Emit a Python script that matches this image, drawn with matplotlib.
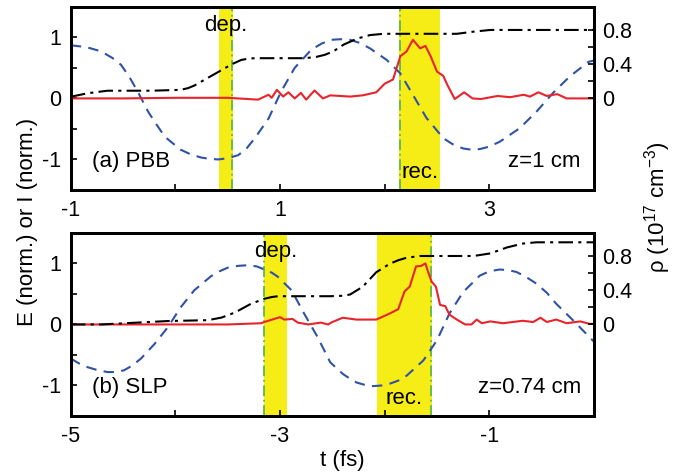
import matplotlib
matplotlib.use("Agg")
import matplotlib.pyplot as plt
from matplotlib.ticker import FixedLocator, FixedFormatter

plt.rcParams['font.family'] = ['Liberation Sans', 'DejaVu Sans']
plt.rcParams['mathtext.fontset'] = 'custom'
plt.rcParams['mathtext.rm'] = 'Liberation Sans'

# ---------------- panel (a) PBB ----------------
a_E_t = [-1.0, -0.85, -0.71, -0.60, -0.52, -0.44, -0.36, -0.26, -0.18, -0.10, 0.05, 0.15, 0.25, 0.33, 0.41,
         0.50, 0.60, 0.68, 0.76, 0.89, 1.01, 1.14, 1.30, 1.40, 1.49, 1.58, 1.67, 1.76, 1.86, 2.02, 2.15,
         2.27, 2.40, 2.56, 2.65, 2.75, 2.83, 2.91, 3.00, 3.10, 3.29, 3.45, 3.61, 3.77, 3.95, 4.0]
a_E = [0.87, 0.84, 0.77, 0.66, 0.55, 0.35, 0.11, -0.22, -0.43, -0.63, -0.84, -0.92, -0.97, -0.99, -1.0,
       -0.98, -0.93, -0.82, -0.65, -0.33, 0.11, 0.50, 0.80, 0.90, 0.96, 0.97, 0.96, 0.91, 0.82, 0.63, 0.41,
       0.06, -0.32, -0.65, -0.75, -0.82, -0.84, -0.83, -0.79, -0.71, -0.49, -0.22, 0.09, 0.36, 0.60, 0.62]

a_rho_t = [-1.0, -0.84, -0.65, -0.23, 0.05, 0.12, 0.18, 0.31, 0.44, 0.54, 0.63, 0.70, 0.76, 1.21, 1.33,
           1.43, 1.51, 1.61, 1.74, 1.86, 1.99, 2.69, 2.85, 3.01, 4.0]
a_rho = [0.02, 0.06, 0.09, 0.09, 0.10, 0.12, 0.15, 0.24, 0.33, 0.40, 0.45, 0.465, 0.47, 0.47, 0.48,
         0.51, 0.55, 0.63, 0.70, 0.74, 0.755, 0.755, 0.78, 0.80, 0.80]

a_I_t = [-1.0, -0.5, 0.0, 0.5, 0.79, 0.89, 0.92, 0.97, 1.03, 1.08, 1.14, 1.20, 1.25, 1.33, 1.41, 1.48,
         1.67, 1.79, 1.92, 2.00, 2.08, 2.11, 2.15, 2.21, 2.27, 2.34, 2.39, 2.44, 2.50, 2.56, 2.60, 2.67,
         2.72, 2.76, 2.84, 2.92, 3.08, 3.20, 3.33, 3.39, 3.47, 3.55, 3.65, 3.74, 4.0]
a_I = [0.0, 0.0, 0.01, 0.01, -0.02, 0.06, 0.01, 0.14, 0.03, 0.10, 0.0, 0.09, -0.02, 0.13, 0.0, 0.05,
       0.03, 0.05, 0.10, 0.24, 0.31, 0.47, 0.69, 0.77, 0.96, 0.82, 0.86, 0.69, 0.44, 0.37, 0.22, -0.01,
       0.05, 0.10, 0.0, -0.01, 0.04, 0.02, 0.06, 0.03, 0.10, 0.04, 0.07, 0.0, 0.0]

a_dep = (0.415, 0.555)
a_dep_line = 0.54
a_rec = (2.14, 2.53)
a_rec_line = 2.145

# ---------------- panel (b) SLP ----------------
b_E_t = [-5.0, -4.92, -4.84, -4.74, -4.65, -4.57, -4.49, -4.41, -4.33, -4.20, -4.07, -3.95, -3.82, -3.66,
         -3.58, -3.50, -3.40, -3.31, -3.22, -3.15, -3.08, -3.02, -2.89, -2.77, -2.64, -2.52, -2.40, -2.33,
         -2.27, -2.19, -2.11, -2.03, -1.95, -1.87, -1.79, -1.63, -1.50, -1.38, -1.25, -1.09, -1.00, -0.90,
         -0.82, -0.74, -0.65, -0.55, -0.45, -0.36, -0.20, -0.04, 0.0]
b_E = [-0.56, -0.64, -0.70, -0.75, -0.78, -0.78, -0.75, -0.67, -0.56, -0.32, -0.04, 0.28, 0.56, 0.79,
       0.87, 0.93, 0.96, 0.97, 0.95, 0.90, 0.85, 0.78, 0.56, 0.18, -0.21, -0.62, -0.81, -0.89,
       -0.95, -0.99, -1.01, -1.0, -0.97, -0.92, -0.84, -0.59, -0.26, 0.18, 0.53, 0.80, 0.87, 0.90,
       0.89, 0.86, 0.78, 0.67, 0.52, 0.34, 0.07, -0.21, -0.28]

b_rho_t = [-5.0, -4.71, -4.39, -4.07, -3.69, -3.56, -3.43, -3.28, -3.15, -3.08, -3.02, -2.86, -2.52, -2.40,
           -2.33, -2.21, -2.08, -1.95, -1.87, -1.79, -1.66, -1.15, -0.99, -0.83, -0.68, -0.55, 0.0]
b_rho = [0.0, 0.0, 0.02, 0.04, 0.05, 0.08, 0.14, 0.24, 0.30, 0.32, 0.33, 0.33, 0.33, 0.335,
         0.35, 0.44, 0.61, 0.71, 0.75, 0.78, 0.80, 0.80, 0.83, 0.90, 0.945, 0.96, 0.96]

b_I_t = [-5.0, -4.0, -3.5, -3.18, -3.15, -3.0, -2.96, -2.88, -2.83, -2.73, -2.61, -2.54, -2.50, -2.40,
         -2.27, -2.08, -1.95, -1.87, -1.81, -1.76, -1.70, -1.65, -1.61, -1.58, -1.55, -1.51, -1.47,
         -1.42, -1.38, -1.31, -1.23, -1.17, -1.12, -1.07, -0.99, -0.87, -0.68, -0.58, -0.51, -0.45,
         -0.36, -0.26, -0.13, -0.04, 0.0]
b_I = [0.0, 0.0, 0.0, 0.02, 0.04, 0.12, 0.08, 0.09, 0.03, 0.0, 0.03, 0.0, 0.04, 0.11,
       0.08, 0.08, 0.18, 0.25, 0.54, 0.62, 0.95, 0.96, 1.0, 0.84, 0.70, 0.62, 0.32,
       0.30, 0.16, 0.08, 0.0, 0.0, 0.08, 0.02, 0.05, 0.02, 0.06, 0.04, 0.11, 0.04,
       0.08, 0.02, 0.05, 0.01, 0.01]

b_dep = (-3.15, -2.93)
b_dep_line = -3.15
b_rec = (-2.07, -1.55)
b_rec_line = -1.56

panels = [
    dict(E_t=a_E_t, E=a_E, rho_t=a_rho_t, rho=a_rho, I_t=a_I_t, I=a_I, dep=a_dep, dep_line=a_dep_line,
         rec=a_rec, rec_line=a_rec_line, xlim=(-1, 4), xticks=[-1, 0, 1, 2, 3, 4],
         xlabels=['-1', '', '1', '', '3', ''], label='(a) PBB', z='z=1 cm'),
    dict(E_t=b_E_t, E=b_E, rho_t=b_rho_t, rho=b_rho, I_t=b_I_t, I=b_I, dep=b_dep, dep_line=b_dep_line,
         rec=b_rec, rec_line=b_rec_line, xlim=(-5, 0), xticks=[-5, -4, -3, -2, -1, 0],
         xlabels=['-5', '', '-3', '', '-1', ''], label='(b) SLP', z='z=0.74 cm'),
]

RED = '#e8232b'
BLUE = '#2f52a8'
YELLOW = '#f6ec16'
GREEN = '#5db94a'
FS = 15.5
TFS = 16

fig = plt.figure(figsize=(6.81, 4.72), dpi=100)
rects = [[0.104, 0.5975, 0.768, 0.388], [0.104, 0.1186, 0.768, 0.388]]

for p, r in zip(panels, rects):
    ax = fig.add_axes(r)
    ax.axvspan(*p['dep'], color=YELLOW, lw=0, zorder=0)
    ax.axvspan(*p['rec'], color=YELLOW, lw=0, zorder=0)
    for xl in (p['dep_line'], p['rec_line']):
        ax.axvline(xl, color=GREEN, lw=1.3, dashes=(6, 2, 1, 2), zorder=1)
    ax.plot(p['E_t'], p['E'], color=BLUE, lw=1.5, dashes=(5, 3.5), zorder=2)
    ax.plot(p['I_t'], p['I'], color=RED, lw=1.5, zorder=3)
    ax.set_xlim(*p['xlim'])
    ax.set_ylim(-1.5, 1.5)
    ax.xaxis.set_major_locator(FixedLocator(p['xticks']))
    ax.xaxis.set_major_formatter(FixedFormatter(p['xlabels']))
    ax.set_yticks([-1, 0, 1])
    ax.set_yticklabels(['-1', '0', '1'])
    ax.yaxis.set_minor_locator(FixedLocator([-0.5, 0.5]))
    ax.tick_params(axis='both', which='both', direction='in', labelsize=FS, width=1.2)
    ax.tick_params(axis='both', which='major', length=4)
    ax.tick_params(axis='y', which='minor', length=4)
    ax.tick_params(axis='x', pad=7)
    ax.tick_params(axis='y', pad=7)
    for s in ax.spines.values():
        s.set_linewidth(2.0)

    ax2 = ax.twinx()
    ax2.plot(p['rho_t'], p['rho'], color='black', lw=1.5, dashes=(7, 2.5, 1.5, 2.5), zorder=4)
    ax2.set_ylim(-1.07, 1.07)
    ax2.set_xlim(*p['xlim'])
    ax2.set_yticks([0, 0.4, 0.8])
    ax2.set_yticklabels(['0', '0.4', '0.8'])
    ax2.yaxis.set_minor_locator(FixedLocator([0.2, 0.6]))
    ax2.tick_params(axis='y', which='both', direction='in', labelsize=FS, length=4, width=1.2, pad=6)
    for s in ax2.spines.values():
        s.set_linewidth(2.0)

    ax.text(0.04, 0.155, p['label'], transform=ax.transAxes, fontsize=TFS, va='center', ha='left')
    ax.text(0.975, 0.155, p['z'], transform=ax.transAxes, fontsize=TFS, va='center', ha='right')
    ax.text(sum(p['dep']) / 2, 1.2, 'dep.', fontsize=TFS, ha='center', va='center', zorder=5)
    ax.text(sum(p['rec']) / 2, -1.22, 'rec.', fontsize=TFS, ha='center', va='center', zorder=5)

fig.text(0.040, 0.53, 'E (norm.) or I (norm.)', rotation=90, fontsize=TFS, ha='center', va='center')
fig.text(0.965, 0.561, 'ρ (10$^{17}$ cm$^{-3}$)', rotation=90, fontsize=TFS, ha='center', va='center')
fig.text(0.503, 0.025, 't (fs)', fontsize=TFS, ha='center', va='center')

fig.savefig('out.png', dpi=100)
